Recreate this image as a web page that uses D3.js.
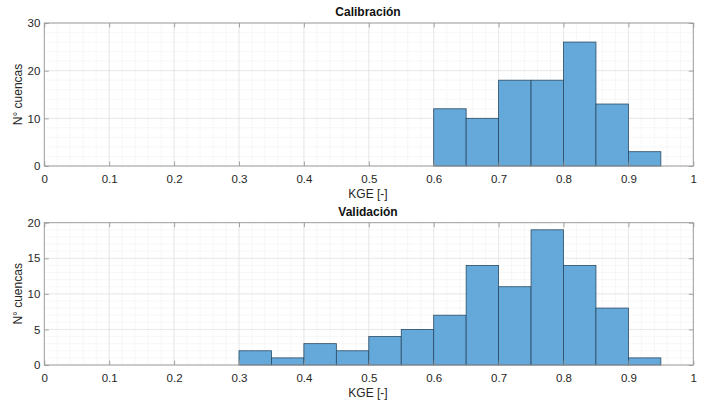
<!DOCTYPE html>
<html><head><meta charset="utf-8">
<script src="https://cdn.jsdelivr.net/npm/d3@7"></script>
<style>body{margin:0;background:#fff}svg{display:block}text{font-family:"Liberation Sans",Arial,sans-serif}</style>
</head><body>
<svg id="c" width="704" height="404"></svg>
<script>
const binEdges = [0.3,0.35,0.4,0.45,0.5,0.55,0.6,0.65,0.7,0.75,0.8,0.85,0.9,0.95];
const calibStart = [0.6,0.65,0.7,0.75,0.8,0.85,0.9];
const calibCounts = [12,10,18,18,26,13,3];
const validStart = [0.3,0.35,0.4,0.45,0.5,0.55,0.6,0.65,0.7,0.75,0.8,0.85,0.9];
const validCounts = [2,1,3,2,4,5,7,14,11,19,14,8,1];
const xTicks = [0,0.1,0.2,0.3,0.4,0.5,0.6,0.7,0.8,0.9,1];
const calibYTicks = [0,10,20,30];
const validYTicks = [0,5,10,15,20];
const binWidth = 0.05;

const svg = d3.select("#c");
const L = 44.3, R = 693.3;

function panel(cfg){
  const x = d3.scaleLinear().domain([0,1]).range([L,R]);
  const y = d3.scaleLinear().domain([0,cfg.ymax]).range([cfg.bottom,cfg.top]);
  const g = svg.append("g");
  const xm = d3.range(0,1.0001,0.02);
  const ym = d3.range(0,cfg.ymax+0.001,cfg.ymin);
  g.selectAll(".xm").data(xm).join("line")
    .attr("x1",d=>x(d)).attr("x2",d=>x(d)).attr("y1",cfg.top).attr("y2",cfg.bottom)
    .attr("stroke","#e6e6e6").attr("stroke-width",0.6).attr("stroke-dasharray","1,1");
  g.selectAll(".ym").data(ym).join("line")
    .attr("y1",d=>y(d)).attr("y2",d=>y(d)).attr("x1",L).attr("x2",R)
    .attr("stroke","#e6e6e6").attr("stroke-width",0.6).attr("stroke-dasharray","1,1");
  g.selectAll(".xg").data(xTicks).join("line")
    .attr("x1",d=>x(d)).attr("x2",d=>x(d)).attr("y1",cfg.top).attr("y2",cfg.bottom)
    .attr("stroke","#e4e4e4").attr("stroke-width",0.8);
  g.selectAll(".yg").data(cfg.yTicks).join("line")
    .attr("y1",d=>y(d)).attr("y2",d=>y(d)).attr("x1",L).attr("x2",R)
    .attr("stroke","#e4e4e4").attr("stroke-width",0.8);
  g.selectAll(".bar").data(cfg.starts.map((s,i)=>({s,c:cfg.counts[i]}))).join("rect")
    .attr("x",d=>x(d.s)).attr("width",d=>x(d.s+binWidth)-x(d.s))
    .attr("y",d=>y(d.c)).attr("height",d=>y(0)-y(d.c))
    .attr("fill","#64a9da").attr("stroke","#2b4a63").attr("stroke-width",0.8);
  g.append("rect").attr("x",L).attr("y",cfg.top).attr("width",R-L).attr("height",cfg.bottom-cfg.top)
    .attr("fill","none").attr("stroke","#9a9a9a").attr("stroke-width",0.9);
  const tk = 4.5;
  const xb = d3.axisBottom(x).tickValues(xTicks).tickSize(-tk).tickPadding(8.5).tickFormat(d3.format("~g"));
  const ax = g.append("g").attr("transform",`translate(0,${cfg.bottom})`).call(xb);
  const xt = d3.axisTop(x).tickValues(xTicks).tickSize(-tk).tickFormat("");
  const axt = g.append("g").attr("transform",`translate(0,${cfg.top})`).call(xt);
  const yl = d3.axisLeft(y).tickValues(cfg.yTicks).tickSize(-tk).tickPadding(4);
  const ay = g.append("g").attr("transform",`translate(${L},0)`).call(yl);
  const yr = d3.axisRight(y).tickValues(cfg.yTicks).tickSize(-tk).tickFormat("");
  const ayr = g.append("g").attr("transform",`translate(${R},0)`).call(yr);
  [ax,axt,ay,ayr].forEach(a=>{
    a.select(".domain").remove();
    a.selectAll(".tick line").attr("stroke","#9a9a9a").attr("stroke-width",0.9);
    a.selectAll("text").attr("fill","#262626").style("font-size","11.5px").style("font-family","'Liberation Sans',Arial,sans-serif");
  });
  g.append("text").attr("x",368).attr("y",cfg.top-7).attr("text-anchor","middle")
    .attr("font-weight","bold").attr("font-size","12px").attr("fill","#111").text(cfg.title);
  g.append("text").attr("x",368).attr("y",cfg.bottom+32).attr("text-anchor","middle")
    .attr("font-size","12px").attr("fill","#262626").text("KGE [-]");
  g.append("text").attr("transform",`translate(22,${(cfg.top+cfg.bottom)/2}) rotate(-90)`)
    .attr("text-anchor","middle").attr("font-size","12px").attr("fill","#262626").text("N° cuencas");
}

panel({title:"Calibración",top:23,bottom:166,ymax:30,ymin:2,yTicks:calibYTicks,starts:calibStart,counts:calibCounts});
panel({title:"Validación",top:222.7,bottom:365,ymax:20,ymin:1,yTicks:validYTicks,starts:validStart,counts:validCounts});
</script>
</body></html>
